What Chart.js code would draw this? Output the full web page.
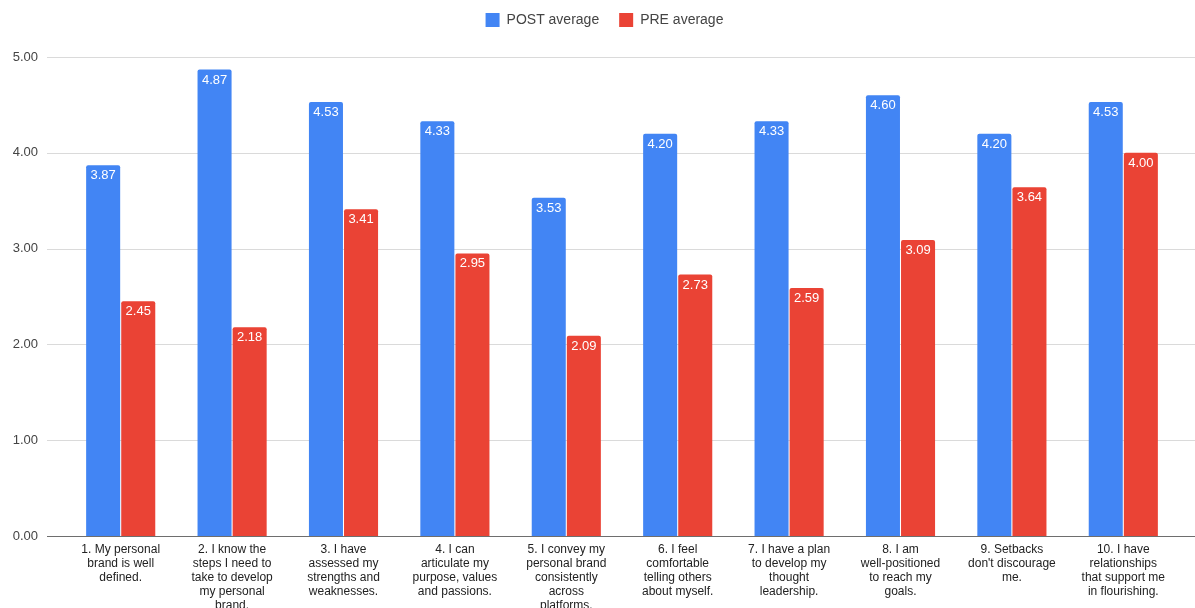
<!DOCTYPE html>
<html>
<head>
<meta charset="utf-8">
<script src="https://cdn.jsdelivr.net/npm/chart.js@4/dist/chart.umd.min.js"></script>
<style>
  html, body { margin: 0; padding: 0; background: #fff; }
  #wrap { width: 1195px; height: 608px; }
</style>
</head>
<body>
<div id="wrap"><canvas id="grafico" width="1195" height="608"></canvas></div>
<script>
/* Datos del gráfico */
const ETIQUETAS = [
    ["1. My personal", "brand is well", "defined."],
    ["2. I know the", "steps I need to", "take to develop", "my personal", "brand."],
    ["3. I have", "assessed my", "strengths and", "weaknesses."],
    ["4. I can", "articulate my", "purpose, values", "and passions."],
    ["5. I convey my", "personal brand", "consistently", "across", "platforms."],
    ["6. I feel", "comfortable", "telling others", "about myself."],
    ["7. I have a plan", "to develop my", "thought", "leadership."],
    ["8. I am", "well-positioned", "to reach my", "goals."],
    ["9. Setbacks", "don't discourage", "me."],
    ["10. I have", "relationships", "that support me", "in flourishing."]
];
const POST_MEDIA = [3.87, 4.87, 4.53, 4.33, 3.53, 4.20, 4.33, 4.60, 4.20, 4.53];
const PRE_MEDIA  = [2.45, 2.18, 3.41, 2.95, 2.09, 2.73, 2.59, 3.09, 3.64, 4.00];
const Y_MAX = 5;
const Y_PASO = 1;

const AZUL = "#4285F4";
const ROJO = "#EA4335";
const FUENTE = "'Liberation Sans', Arial, sans-serif";

/* Leyenda: altura fija y centrada sobre todo el lienzo */
const leyendaAjuste = {
    id: "leyendaAjuste",
    beforeInit(chart) {
        const fitOriginal = chart.legend.fit;
        chart.legend.fit = function () {
            fitOriginal.bind(chart.legend)();
            this.height = 54;
        };
    },
    afterLayout(chart) {
        chart.legend.left += 15;
        chart.legend.right += 15;
        chart.legend.top -= 10;
    }
};

/* Líneas de cuadrícula a todo lo ancho */
const rejillaAncha = {
    id: "rejillaAncha",
    beforeDatasetsDraw(chart) {
        const ctx = chart.ctx;
        const y = chart.scales.y;
        ctx.save();
        for (const t of y.ticks) {
            const py = Math.round(y.getPixelForValue(t.value)) + 0.5;
            ctx.strokeStyle = t.value === 0 ? "#6e6e6e" : "#dadada";
            ctx.lineWidth = 1;
            ctx.beginPath();
            ctx.moveTo(47, py);
            ctx.lineTo(1195, py);
            ctx.stroke();
        }
        ctx.restore();
    }
};

/* Valores dentro de las barras */
const valoresBarras = {
    id: "valoresBarras",
    afterDatasetsDraw(chart) {
        const ctx = chart.ctx;
        ctx.save();
        ctx.font = "13px " + FUENTE;
        ctx.fillStyle = "#ffffff";
        ctx.textAlign = "center";
        ctx.textBaseline = "top";
        chart.data.datasets.forEach((ds, i) => {
            const meta = chart.getDatasetMeta(i);
            meta.data.forEach((bar, j) => {
                ctx.fillText(ds.data[j].toFixed(2), bar.x, bar.y + 4);
            });
        });
        ctx.restore();
    }
};

new Chart(document.getElementById("grafico"), {
    type: "bar",
    data: {
        labels: ETIQUETAS,
        datasets: [
            {
                label: "POST average",
                data: POST_MEDIA,
                backgroundColor: AZUL,
                borderRadius: { topLeft: 2, topRight: 2 },
                borderSkipped: "bottom",
                categoryPercentage: 0.63,
                barPercentage: 0.97
            },
            {
                label: "PRE average",
                data: PRE_MEDIA,
                backgroundColor: ROJO,
                borderRadius: { topLeft: 2, topRight: 2 },
                borderSkipped: "bottom",
                categoryPercentage: 0.63,
                barPercentage: 0.97
            }
        ]
    },
    options: {
        responsive: false,
        animation: false,
        layout: { padding: { top: 3, right: 16, left: 0, bottom: 0 } },
        plugins: {
            legend: {
                position: "top",
                labels: {
                    color: "#444",
                    font: { size: 14, family: FUENTE },
                    boxWidth: 14,
                    boxHeight: 14,
                    padding: 20
                }
            },
            tooltip: { enabled: false }
        },
        scales: {
            x: {
                grid: { display: false },
                border: { display: false },
                ticks: {
                    color: "#222",
                    font: { size: 12, family: FUENTE, lineHeight: 1.17 },
                    maxRotation: 0,
                    autoSkip: false,
                    padding: -1
                },
                afterFit(scale) { scale.height = 72; }
            },
            y: {
                min: 0,
                max: Y_MAX,
                grid: { display: false },
                border: { display: false },
                ticks: {
                    stepSize: Y_PASO,
                    color: "#444",
                    font: { size: 13, family: FUENTE },
                    padding: 19,
                    callback: v => v.toFixed(2)
                },
                afterFit(scale) { scale.width = 65; }
            }
        }
    },
    plugins: [leyendaAjuste, rejillaAncha, valoresBarras]
});
</script>
</body>
</html>
